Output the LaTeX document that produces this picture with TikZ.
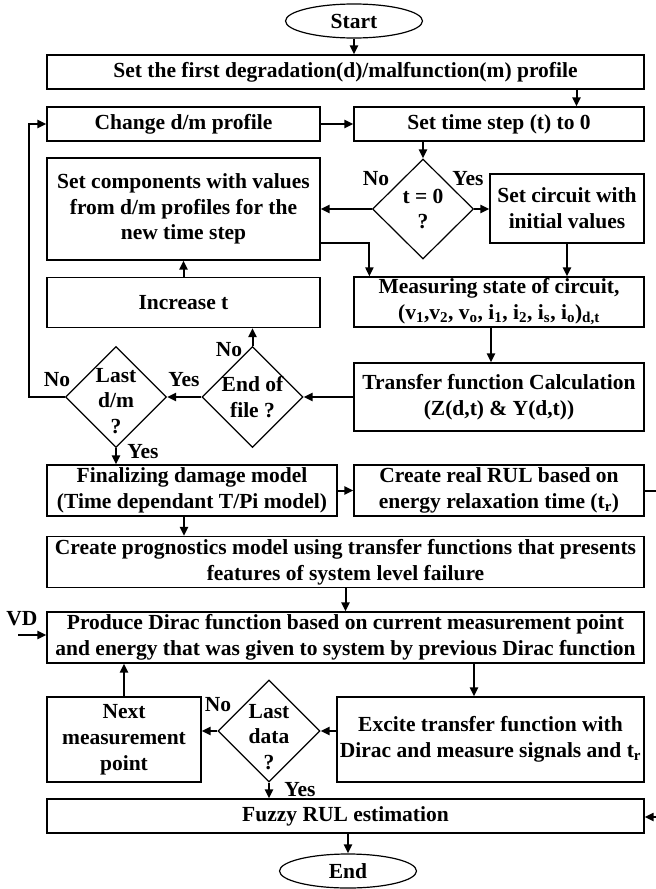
\documentclass[tikz,border=0pt]{standalone}
\usepackage{fontspec}
\setmainfont{Liberation Serif}
\usetikzlibrary{arrows.meta,shapes.geometric}
\begin{document}
\begin{tikzpicture}[x=1pt,y=-1pt,
  every node/.style={font=\fontsize{21.5}{25.8}\selectfont\bfseries},
  box/.style={draw, line width=1.2pt, inner sep=0pt, align=center},
  dia/.style={draw, diamond, line width=1.2pt, inner sep=0pt},
  oval/.style={draw, ellipse, line width=1.2pt, inner sep=0pt},
  txt/.style={align=center, inner sep=0pt},
  arr/.style={-{Triangle[length=9pt,width=8pt]}, line width=2pt},
  ln/.style={line width=2pt}]
\useasboundingbox (0,0) rectangle (656,889);
% nodes
\node[oval, minimum width=137pt, minimum height=34pt] (start) at (354,21) {Start};
\node[box, minimum width=597pt, minimum height=34pt] (box1) at (345.5,72) {Set the first degradation(d)/malfunction(m) profile};
\node[box, minimum width=273pt, minimum height=34pt] (change) at (183.5,124) {Change d/m profile};
\node[box, minimum width=290pt, minimum height=34pt] (setT) at (499,124) {Set time step (t) to 0};
\node[dia, minimum width=101pt, minimum height=100pt] (t0) at (423,209) {};
\node[txt] at (t0) {t = 0\\?};
\node[box, minimum width=273pt, minimum height=102pt] (setComp) at (183.5,209) {Set components with values\\from d/m profiles for the\\new time step};
\node[box, minimum width=154pt, minimum height=69pt] (setCirc) at (567,208.5) {Set circuit with\\initial values};
\node[box, minimum width=273pt, minimum height=50pt] (incT) at (183.5,302.5) {Increase t};
\node[box, minimum width=290pt, minimum height=50pt] (meas) at (499,302) {Measuring state of circuit,\\(v\textsubscript{1},v\textsubscript{2}, v\textsubscript{o}, i\textsubscript{1}, i\textsubscript{2}, i\textsubscript{s}, i\textsubscript{o})\textsubscript{d,t}};
\node[box, minimum width=290pt, minimum height=68pt] (trans) at (499,397) {Transfer function Calculation\\(Z(d,t) \& Y(d,t))};
\node[dia, minimum width=101pt, minimum height=101pt] (eof) at (252.5,397) {};
\node[txt] at (eof) {End of\\file ?};
\node[dia, minimum width=101pt, minimum height=101pt] (lastdm) at (116,397) {};
\node[txt] at ([yshift=-4pt]lastdm) {Last\\d/m\\?};
\node[box, minimum width=290pt, minimum height=51pt] (final) at (192,490.5) {Finalizing damage model\\(Time dependant T/Pi model)};
\node[box, minimum width=290pt, minimum height=51pt] (realRUL) at (499,490.5) {Create real RUL based on\\energy relaxation time (t\textsubscript{r})};
\node[box, minimum width=597pt, minimum height=51pt] (prog) at (345.5,562) {Create prognostics model using transfer functions that presents\\features of system level failure};
\node[box, minimum width=597pt, minimum height=51pt] (dirac) at (345.5,637.5) {Produce Dirac function based on current measurement point\\and energy that was given to system by previous Dirac function};
\node[box, minimum width=154pt, minimum height=85pt] (next) at (124,739.5) {Next\\measurement\\point};
\node[dia, minimum width=102pt, minimum height=102pt] (lastdata) at (269,731) {};
\node[txt] at ([yshift=-6pt]lastdata) {Last\\data\\?};
\node[box, minimum width=307pt, minimum height=85pt] (excite) at (490.5,739.5) {Excite transfer function with\\Dirac and measure signals and t\textsubscript{r}};
\node[box, minimum width=597pt, minimum height=34pt] (fuzzy) at (345.5,816) {Fuzzy RUL estimation};
\node[oval, minimum width=137pt, minimum height=34pt] (end) at (348,871) {End};
% labels
\node[txt] (lNo1) at (376,179) {No};
\node[txt] (lYes1) at (468,179) {Yes};
\node[txt] (lNo2) at (229,350) {No};
\node[txt] (lYes2) at (184,380) {Yes};
\node[txt] (lNo3) at (57,380) {No};
\node[txt] (lYes3) at (143,452) {Yes};
\node[txt] (lNo4) at (218,705) {No};
\node[txt] (lYes4) at (300,790) {Yes};
\node[txt] (lVD) at (22,619) {VD};
% coordinates
\coordinate (loop) at (29,397);
\coordinate (rr) at (656,490.5);
\coordinate (vd) at (18,635);
\coordinate (fr) at (656,817);
\coordinate (b1) at ([xshift=231pt]box1.south);
\coordinate (m1) at ([xshift=-8pt]meas.south);
\coordinate (f1) at ([xshift=-8pt]final.south);
\coordinate (e1) at ([xshift=-16.5pt]excite.north);
\coordinate (c1) at ([yshift=-34pt]setComp.east);
\coordinate (c2) at ([xshift=16pt]meas.north west);
% connectors
\draw[arr] (start.south) -- (start.south |- box1.north);
\draw[arr] (b1) -- (b1 |- setT.north);
\draw[arr] (change.east) -- (setT.west);
\draw[arr] (t0.north |- setT.south) -- (t0.north);
\draw[arr] (t0.west) -- (setComp.east |- t0.west);
\draw[arr] (t0.east) -- (setCirc.west |- t0.east);
\draw[arr] (setCirc.south) -- (setCirc.south |- meas.north);
\draw[arr] (c1) -| (c2);
\draw[arr] (incT.north) -- (setComp.south);
\draw[arr] (m1) -- (m1 |- trans.north);
\draw[arr] (trans.west) -- (eof.east);
\draw[arr] (eof.north) -- (eof.north |- incT.south);
\draw[arr] (eof.west) -- (lastdm.east);
\draw[arr] (lastdm.west) -- (loop) |- (change.west);
\draw[arr] (lastdm.south) -- (lastdm.south |- final.north);
\draw[arr] (final.east) -- (realRUL.west);
\draw[ln] (realRUL.east) -- (rr);
\draw[arr] (f1) -- (f1 |- prog.north);
\draw[arr] (prog.south) -- (dirac.north);
\draw[arr] (vd) -- (vd -| dirac.west);
\draw[arr] (e1 |- dirac.south) -- (e1);
\draw[arr] (excite.west |- lastdata.east) -- (lastdata.east);
\draw[arr] (lastdata.west) -- (lastdata.west -| next.east);
\draw[arr] (next.north) -- (next.north |- dirac.south);
\draw[arr] (lastdata.south) -- (lastdata.south |- fuzzy.north);
\draw[arr] (fr) -- (fr -| fuzzy.east);
\draw[arr] (end.north |- fuzzy.south) -- (end.north);
\end{tikzpicture}
\end{document}
